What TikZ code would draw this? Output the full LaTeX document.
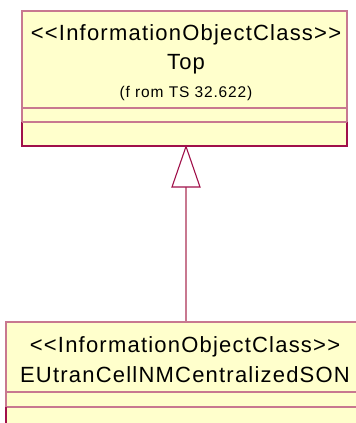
\documentclass[tikz,border=0pt]{standalone}
\usepackage{fontspec}
\setmainfont{Liberation Sans}[LetterSpace=5.5, Ligatures=TeXOff]
\definecolor{boxfill}{HTML}{FFFFCC}
\definecolor{lightedge}{HTML}{C87890}
\definecolor{darkedge}{HTML}{A0104A}
\begin{document}
\begin{tikzpicture}[x=1pt,y=-1pt,
  bigtext/.style={font=\fontsize{22}{25}\selectfont, anchor=base, inner sep=0pt},
  smalltext/.style={font=\fontsize{15.5}{18}\selectfont, anchor=base, inner sep=0pt},
  edge/.style={draw=lightedge, line width=1.2pt},
  dedge/.style={draw=darkedge, line width=1.4pt}]
\useasboundingbox (0,0) rectangle (356,423);
% Top class
\fill[boxfill] (22,11) rectangle (347,146);
\draw[edge] (22,11) rectangle (347,146);
\draw[edge] (22,108) -- (347,108);
\draw[dedge] (22,122) -- (22,146) -- (347,146) -- (347,122);
\draw[edge] (22,122) -- (347,122);
\node[bigtext] (s1) at (186,40) {<<InformationObjectClass>>};
\node[bigtext] (n1) at (186,69) {Top};
\node[smalltext] (f1) at (186,97) {(f rom TS 32.622)};
\coordinate (topb) at (186,146.5);
% Bottom class
\fill[boxfill] (6,322) rectangle (358,425);
\draw[edge] (6,425) -- (6,322) -- (358,322);
\draw[edge] (6,392) -- (358,392);
\draw[edge] (6,407) -- (358,407);
\draw[dedge] (6,407) -- (6,425);
\node[bigtext] (s2) at (185,352) {<<InformationObjectClass>>};
\node[bigtext] (n2) at (185,382) {EUtranCellNMCentralizedSON};
\coordinate (botb) at (186,322);
% generalization
\coordinate (tribase) at (186,187);
\draw[edge] (botb) -- (tribase);
\draw[draw=darkedge, line width=1.1pt, fill=white, line join=miter] (topb) -- (200,187) -- (172,187) -- cycle;
\end{tikzpicture}
\end{document}
